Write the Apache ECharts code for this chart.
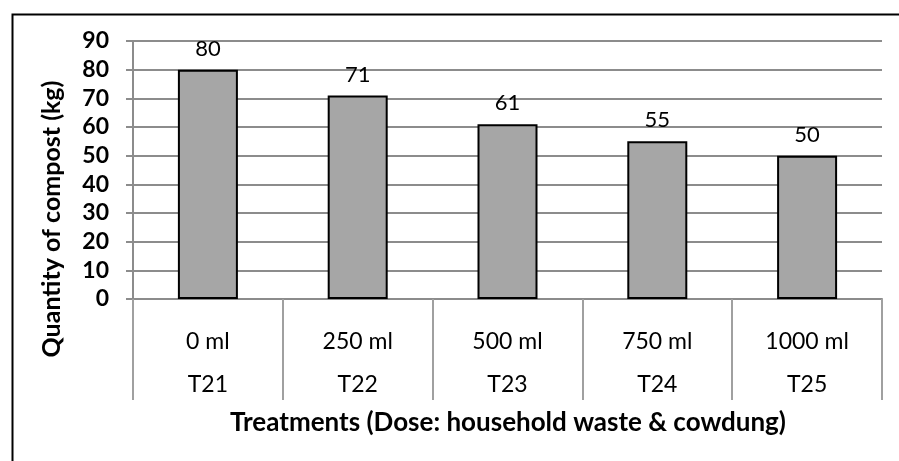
<!DOCTYPE html>
<html>
<head>
<meta charset="utf-8">
<script src="https://cdn.jsdelivr.net/npm/echarts@6/dist/echarts.min.js"></script>
<style>
html,body{margin:0;padding:0;background:#fff;}
#chart{width:899px;height:461px;}
</style>
</head>
<body>
<div id="chart"></div>
<script>
const doses = ['0 ml', '250 ml', '500 ml', '750 ml', '1000 ml'];
const treatments = ['T21', 'T22', 'T23', 'T24', 'T25'];
const compost = [80, 71, 61, 55, 50];
const yTitle = 'Quantity of compost (kg)';
const xTitle = 'Treatments (Dose: household waste & cowdung)';

const FONT = 'Lato, Carlito, "Liberation Sans", sans-serif';
const chart = echarts.init(document.getElementById('chart'));
chart.setOption({
  animation: false,
  backgroundColor: '#fff',
  grid: { left: 133, right: 17, top: 41, bottom: 162, containLabel: false },
  xAxis: {
    type: 'category',
    data: doses,
    boundaryGap: true,
    axisLine: { show: true, lineStyle: { color: '#8c8c8c', width: 2 } },
    axisTick: { show: true, interval: 0, length: 101, lineStyle: { color: '#a0a0a0', width: 2 } },
    axisLabel: {
      interval: 0,
      margin: 21,
      formatter: function (v, i) { return '{a|' + v + '}\n{b|' + treatments[i] + '}'; },
      rich: {
        a: { fontFamily: FONT, fontSize: 23, color: '#000', lineHeight: 43, height: 43 },
        b: { fontFamily: FONT, fontSize: 23, color: '#000', lineHeight: 43, height: 43 }
      }
    },
    splitLine: { show: false }
  },
  yAxis: {
    type: 'value',
    min: 0, max: 90, interval: 10,
    axisLine: { show: true, lineStyle: { color: '#8c8c8c', width: 2 } },
    axisTick: { show: true, length: 7, lineStyle: { color: '#8c8c8c', width: 2 } },
    axisLabel: { fontFamily: FONT, fontSize: 23, fontWeight: 'bold', color: '#000', margin: 24 },
    splitLine: { show: true, lineStyle: { color: '#8c8c8c', width: 2 } }
  },
  series: [{
    type: 'bar',
    data: compost,
    barWidth: 60,
    itemStyle: { color: '#a6a6a6', borderColor: '#000', borderWidth: 2 },
    label: { show: true, position: 'top', distance: 10, fontFamily: FONT, fontSize: 22, color: '#000' }
  }],
  graphic: [
    { type: 'rect', left: 10, top: 12, shape: { x: 0, y: 0, width: 1000, height: 1000 }, style: { fill: null, stroke: '#000', lineWidth: 2 }, silent: true },
    { type: 'text', x: 52, y: 219, rotation: Math.PI / 2, style: { text: yTitle, fontFamily: FONT, fontSize: 25, fontWeight: 'bold', fill: '#000', textAlign: 'center', textVerticalAlign: 'middle' } },
    { type: 'text', x: 508, y: 423, style: { text: xTitle, fontFamily: FONT, fontSize: 26, fontWeight: 'bold', fill: '#000', textAlign: 'center', textVerticalAlign: 'middle' } }
  ]
});
</script>
</body>
</html>
